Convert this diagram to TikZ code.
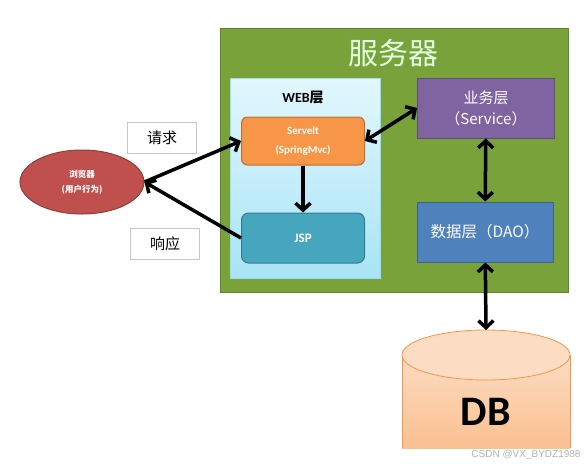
\documentclass[tikz,border=0pt]{standalone}
\usepackage{fontspec}
\setmainfont{Carlito}
\newfontfamily\cjk{Noto Sans CJK SC}
\newfontfamily\markfont{Liberation Sans}
\usetikzlibrary{positioning, arrows.meta, shapes.geometric}
\definecolor{servergreen}{HTML}{7AA23A}
\definecolor{webtop}{HTML}{E2F7FD}
\definecolor{webbottom}{HTML}{A8E4F6}
\definecolor{servorange}{HTML}{F79646}
\definecolor{jspteal}{HTML}{45A6BE}
\definecolor{svcpurple}{HTML}{8064A2}
\definecolor{daoblue}{HTML}{4F81BD}
\definecolor{browserred}{HTML}{C0504D}
\definecolor{dbtopcol}{HTML}{FCDCC2}
\definecolor{dbpeach}{HTML}{FAC090}
\tikzset{x=1pt, y=-1pt, % pixel-like units, y goes down
every node/.style={inner sep=0pt, align=center},
box/.style={ % Sets the properties for the coloured boxes
draw=#1!75!black, fill=#1, text=white, line width=1pt},
tag/.style={ % White label boxes
draw=gray!45, fill=white, minimum width=69, minimum height=31,
font=\cjk\fontsize{15}{17}\selectfont},
link/.style={ % Thick black connectors
draw, line width=3.5pt, >={Straight Barb[length=7pt,width=15pt]}}}

\begin{document}
\begin{tikzpicture}
    \useasboundingbox (0,0) rectangle (585,466);

    % server frame
    \node[box=servergreen, draw=servergreen!80!black, minimum width=348, minimum height=264] (server) at (394,160) {};
    \node[text=white!88!green, font=\cjk\fontsize{30}{32}\selectfont] (title) at (393,53) {服务器};

    % web layer
    \node[draw=cyan!40, line width=1pt, top color=webtop, bottom color=webbottom,
          minimum width=150, minimum height=200] (web) at (305,178) {};
    \node[font=\bfseries\fontsize{14}{16}\selectfont] (webtitle) at (303,98) {WEB{\cjk\bfseries 层}};
    \node[box=servorange, rounded corners=6pt, minimum width=123, minimum height=48,
          font=\bfseries\fontsize{11}{19}\selectfont] (servelt) at (303,141) {Servelt\\(SpringMvc)};
    \node[box=jspteal, rounded corners=7pt, minimum width=123, minimum height=50,
          font=\bfseries\fontsize{13}{15}\selectfont] (jsp) at (303,238) {JSP};

    % service and dao
    \node[box=svcpurple, minimum width=137, minimum height=60,
          font=\cjk\fontsize{15}{21}\selectfont] (service) at (486,108) {业务层\\（Service）};
    \node[box=daoblue, minimum width=136, minimum height=60,
          font=\cjk\fontsize{15.5}{17}\selectfont] (dao) at (485,232) {数据层（DAO）};

    % browser
    \node[ellipse, box=browserred, minimum width=124, minimum height=64,
          font=\cjk\bfseries\fontsize{8.5}{15}\selectfont] (browser) at (82,182) {浏览器\\(用户行为)};
    \node[tag] (req) at (162,138) {请求};
    \node[tag] (resp) at (165,244) {响应};

    % database
    \fill[top color=dbtopcol, bottom color=dbpeach] (402,355) -- (402,448) -- (570,448) -- (570,355) -- cycle;
    \draw[draw=servorange, line width=0.8pt] (402,448) -- (402,355) (570,355) -- (570,448);
    \draw[draw=servorange, fill=dbtopcol, line width=0.8pt] (486,355) ellipse (84 and 25);
    \coordinate (dbtop) at (486,330);
    \node[font=\bfseries\fontsize{42}{46}\selectfont] (db) at (486,412) {DB};
    \node[text=gray!60, font=\markfont\fontsize{10}{12}\selectfont] (mark) at (526,455) {CSDN @VX\_BYDZ1988};

    % connectors
    \draw[link,->] (browser.east) -- (servelt.west);
    \draw[link,->] (jsp.west) -- (browser.east);
    \draw[link,<->] (servelt.east) -- (service.west);
    \draw[link,->] (servelt) -- (jsp);
    \draw[link,<->] (service) -- (dao);
    \draw[link,<->] (dao) -- (dbtop);

\end{tikzpicture}
\end{document}
